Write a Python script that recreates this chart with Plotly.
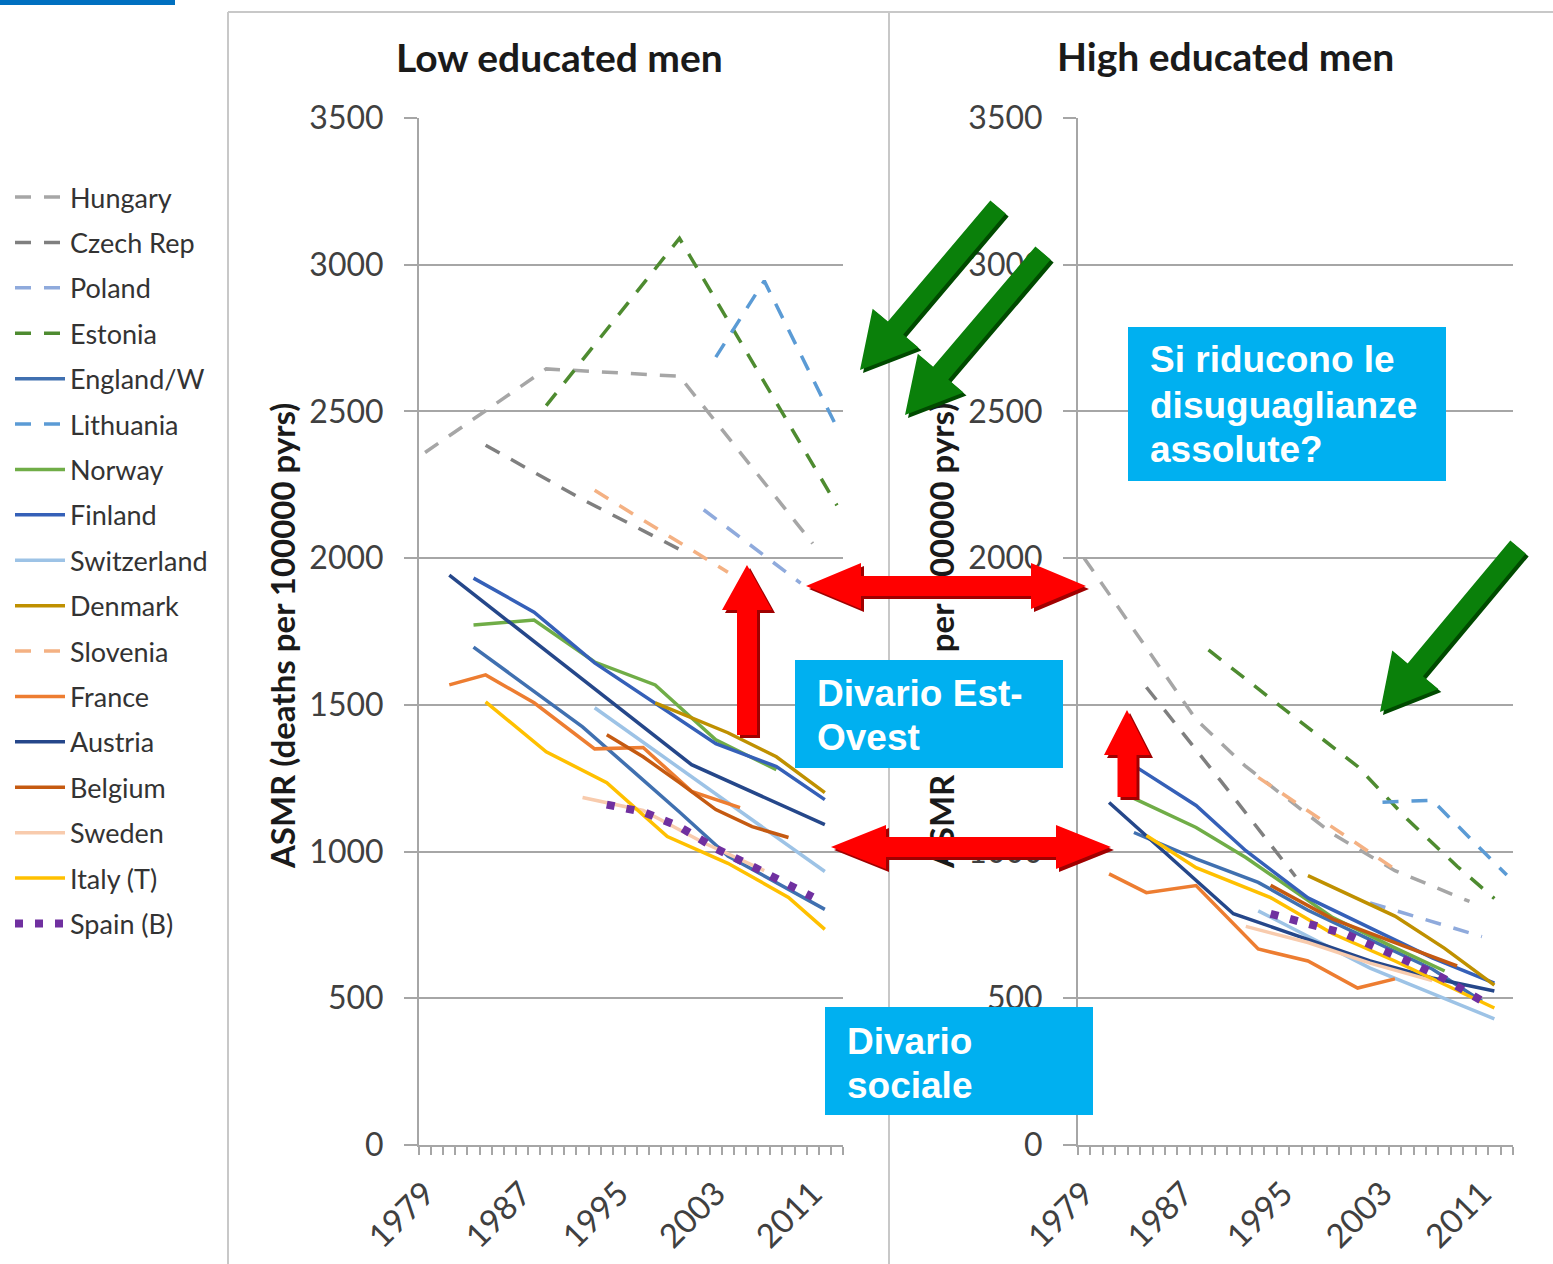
import math
import plotly.graph_objects as go

W, H = 1553, 1264

# ---- data: age-standardised mortality (deaths per 100000 person-years) ----
countries = ["Hungary", "Czech Rep", "Poland", "Estonia", "England/W", "Lithuania",
             "Norway", "Finland", "Switzerland", "Denmark", "Slovenia", "France",
             "Austria", "Belgium", "Sweden", "Italy (T)", "Spain (B)"]

hungary_low_yr = [1979, 1989, 2000, 2011]
hungary_low = [2360, 2645, 2620, 2050]
hungary_high_yr = [1979, 1988, 1992, 1999, 2004, 2010]
hungary_high = [2000, 1450, 1290, 1060, 935, 830]

czech_low_yr = [1984, 1992, 2000]
czech_low = [2385, 2200, 2030]
czech_high_yr = [1984, 1990, 1996]
czech_high = [1560, 1240, 915]

poland_low_yr = [2002, 2006, 2010]
poland_low = [2165, 2040, 1915]
poland_high_yr = [2002, 2006, 2011]
poland_high = [825, 775, 710]

estonia_low_yr = [1989, 2000, 2013]
estonia_low = [2520, 3090, 2180]
estonia_high_yr = [1989, 1997, 2001, 2005, 2009, 2012]
estonia_high = [1687, 1424, 1290, 1110, 950, 840]

england_low_yr = [1983, 1992, 1996, 2000, 2004, 2009, 2012]
england_low = [1697, 1425, 1280, 1135, 985, 870, 803]
england_high_yr = [1983, 1988, 1993, 1997, 2002, 2007, 2011]
england_high = [1065, 975, 895, 800, 700, 600, 490]

lithuania_low_yr = [2003, 2007, 2013]
lithuania_low = [2685, 2945, 2445]
lithuania_high_yr = [2003, 2007, 2013]
lithuania_high = [1168, 1175, 920]

norway_low_yr = [1983, 1988, 1993, 1998, 2003, 2008]
norway_low = [1772, 1789, 1646, 1568, 1381, 1279]
norway_high_yr = [1983, 1988, 1992, 1995, 1999, 2004, 2008]
norway_high = [1181, 1082, 980, 891, 775, 672, 593]

finland_low_yr = [1983, 1988, 1993, 1998, 2003, 2008, 2012]
finland_low = [1932, 1816, 1643, 1507, 1368, 1290, 1177]
finland_high_yr = [1983, 1988, 1992, 1997, 2002, 2007, 2012]
finland_high = [1293, 1157, 1003, 842, 740, 638, 552]

switzerland_low_yr = [1993, 2002, 2012]
switzerland_low = [1490, 1225, 932]
switzerland_high_yr = [1993, 2002, 2012]
switzerland_high = [798, 603, 430]

denmark_low_yr = [1998, 2004, 2008, 2012]
denmark_low = [1507, 1405, 1323, 1201]
denmark_high_yr = [1997, 2004, 2008, 2012]
denmark_high = [918, 780, 670, 545]

slovenia_low_yr = [1993, 2004]
slovenia_low = [2231, 1952]
slovenia_high_yr = [1993, 2004]
slovenia_high = [1253, 940]

france_low_yr = [1981, 1984, 1988, 1993, 1997, 2001, 2005]
france_low = [1568, 1602, 1507, 1350, 1355, 1205, 1150]
france_high_yr = [1981, 1984, 1988, 1993, 1997, 2001, 2004]
france_high = [924, 860, 884, 668, 627, 535, 566]

austria_low_yr = [1981, 1991, 2001, 2012]
austria_low = [1942, 1620, 1296, 1092]
austria_high_yr = [1981, 1991, 1995, 2002, 2007, 2012]
austria_high = [1167, 788, 730, 627, 569, 525]

belgium_low_yr = [1994, 1997, 2000, 2003, 2006, 2009]
belgium_low = [1398, 1323, 1235, 1143, 1085, 1048]
belgium_high_yr = [1994, 1999, 2004, 2009]
belgium_high = [885, 770, 690, 610]

sweden_low_yr = [1992, 1997, 2002, 2007]
sweden_low = [1184, 1140, 1030, 935]
sweden_high_yr = [1992, 1997, 2002, 2007]
sweden_high = [745, 690, 620, 560]

italy_low_yr = [1984, 1989, 1994, 1999, 2004, 2009, 2012]
italy_low = [1510, 1340, 1235, 1051, 960, 844, 735]
italy_high_yr = [1984, 1988, 1994, 1999, 2004, 2012]
italy_high = [1055, 945, 843, 720, 627, 467]

spain_low_yr = [1994, 1997, 2000, 2003, 2006, 2009, 2011]
spain_low = [1160, 1135, 1085, 1010, 950, 885, 845]
spain_high_yr = [1994, 2000, 2005, 2008, 2011]
spain_high = [788, 720, 627, 566, 491]

low_series = [
    (hungary_low_yr, hungary_low), (czech_low_yr, czech_low), (poland_low_yr, poland_low),
    (estonia_low_yr, estonia_low), (england_low_yr, england_low), (lithuania_low_yr, lithuania_low),
    (norway_low_yr, norway_low), (finland_low_yr, finland_low), (switzerland_low_yr, switzerland_low),
    (denmark_low_yr, denmark_low), (slovenia_low_yr, slovenia_low), (france_low_yr, france_low),
    (austria_low_yr, austria_low), (belgium_low_yr, belgium_low), (sweden_low_yr, sweden_low),
    (italy_low_yr, italy_low), (spain_low_yr, spain_low),
]
high_series = [
    (hungary_high_yr, hungary_high), (czech_high_yr, czech_high), (poland_high_yr, poland_high),
    (estonia_high_yr, estonia_high), (england_high_yr, england_high), (lithuania_high_yr, lithuania_high),
    (norway_high_yr, norway_high), (finland_high_yr, finland_high), (switzerland_high_yr, switzerland_high),
    (denmark_high_yr, denmark_high), (slovenia_high_yr, slovenia_high), (france_high_yr, france_high),
    (austria_high_yr, austria_high), (belgium_high_yr, belgium_high), (sweden_high_yr, sweden_high),
    (italy_high_yr, italy_high), (spain_high_yr, spain_high),
]

year_labels = [1979, 1987, 1995, 2003, 2011]
y_ticks = [0, 500, 1000, 1500, 2000, 2500, 3000, 3500]

# ---- styling ----
colors = ["#A6A6A6", "#7F7F7F", "#8FAADC", "#4E8B30", "#4070B0", "#5B9BD5",
          "#70AD47", "#3560B8", "#9DC3E6", "#BF9000", "#F4B183", "#ED7D31",
          "#25478A", "#C55A11", "#F8CBAD", "#FFC000", "#7030A0"]
DASH = "16px,13px"
DOTS = "8px,12px"
dashes = [DASH, DASH, DASH, DASH, "solid", DASH, "solid", "solid", "solid", "solid",
          DASH, "solid", "solid", "solid", "solid", "solid", DOTS]

FONT = "Lato"
GRID = "#A6A6A6"
TICKCOL = "#404040"

fig = go.Figure()

for i, name in enumerate(countries):
    w = 8 if dashes[i] == DOTS else 3.5
    for (yrs, vals), xa, ya, show in ((low_series[i], "x", "y", True),
                                      (high_series[i], "x2", "y2", False)):
        fig.add_trace(go.Scatter(
            x=yrs, y=vals, mode="lines", name=name, legendgroup=name,
            showlegend=show, xaxis=xa, yaxis=ya, hoverinfo="skip",
            line=dict(color=colors[i], width=w, dash=dashes[i]),
        ))

# invisible carriers so the rotated title axes get drawn
for xa, ya in (("x", "y3"), ("x2", "y4")):
    fig.add_trace(go.Scatter(x=[1990], y=[1000], mode="markers", xaxis=xa, yaxis=ya,
                             marker=dict(opacity=0), showlegend=False, hoverinfo="skip"))

x_minor = [1978.5 + k for k in range(36)]


def xaxis_cfg(x0, x1):
    return dict(
        domain=[x0 / W, x1 / W], range=[1978.5, 2013.5], tickmode="array",
        tickvals=year_labels, ticktext=[str(v) for v in year_labels], tickangle=-45,
        ticks="", showgrid=False, zeroline=False, showline=True, linecolor=GRID,
        linewidth=2, ticklabelstandoff=14,
        tickfont=dict(family=FONT, size=33, color=TICKCOL),
        minor=dict(tickmode="array", tickvals=x_minor, ticks="outside", ticklen=8,
                   tickcolor=GRID, tickwidth=2, showgrid=False),
    )


def yaxis_cfg(anchor):
    return dict(
        domain=[1 - 1145 / H, 1 - 118 / H], range=[0, 3500], tickmode="array",
        tickvals=y_ticks, anchor=anchor, showgrid=True, gridcolor=GRID, gridwidth=2,
        zeroline=False, showline=True, linecolor=GRID, linewidth=2, ticks="outside",
        ticklen=13, tickcolor=GRID, tickwidth=2, ticklabelstandoff=14,
        tickfont=dict(family=FONT, size=32, color=TICKCOL),
    )


YTITLE = "<b>ASMR (deaths per 100000 pyrs)</b>"


def ytitle_axis(over, xpix):
    # rotated axis title drawn as a tick label so that it sits below the overlays
    return dict(
        overlaying=over, anchor="free", position=xpix / W, side="left",
        range=[0, 3500], tickmode="array", tickvals=[1720], ticktext=[YTITLE],
        tickangle=-90, ticks="", showline=False, showgrid=False, zeroline=False,
        tickfont=dict(family=FONT, size=33, color="#1A1A1A"),
    )


fig.update_layout(
    width=W, height=H, margin=dict(l=0, r=0, t=0, b=0, autoexpand=False),
    paper_bgcolor="white", plot_bgcolor="rgba(0,0,0,0)",
    xaxis=xaxis_cfg(419, 843), yaxis=yaxis_cfg("x"),
    xaxis2=xaxis_cfg(1078, 1513), yaxis2=yaxis_cfg("x2"),
    yaxis3=ytitle_axis("y", 302), yaxis4=ytitle_axis("y2", 961),
    legend=dict(x=10 / W, y=1 - 173 / H, xanchor="left", yanchor="top",
                traceorder="grouped", tracegroupgap=7.3, itemwidth=50,
                bgcolor="rgba(0,0,0,0)",
                font=dict(family=FONT, size=27, color="#333333")),
)

# ---- panel titles ----
for label, xc, yc in (("Low educated men", 559, 57), ("High educated men", 1225, 56)):
    fig.add_annotation(x=xc / W, y=1 - yc / H, xref="paper", yref="paper",
                       text=f"<b>{label}</b>", showarrow=False,
                       xanchor="center", yanchor="middle",
                       font=dict(family=FONT, size=39, color="#1A1A1A"))

shapes = []

# header strip and chart frame
shapes.append(dict(type="rect", xref="paper", yref="paper", x0=0, x1=175 / W,
                   y0=1 - 5 / H, y1=1, fillcolor="#0070C0", line=dict(width=0)))
for (xa, ya, xb, yb) in ((228, 12, 228, H), (228, 12, W, 12), (889, 12, 889, H)):
    shapes.append(dict(type="line", xref="paper", yref="paper", x0=xa / W, x1=xb / W,
                       y0=1 - ya / H, y1=1 - yb / H, line=dict(color="#C8C8C8", width=2),
                       layer="below"))


def arrow_pts(tail, tip, shaft, head_w, head_len, both=False):
    (x0, y0), (x1, y1) = tail, tip
    L = math.hypot(x1 - x0, y1 - y0)
    ux, uy = (x1 - x0) / L, (y1 - y0) / L
    nx, ny = -uy, ux

    def P(s, t):
        return (x0 + ux * s + nx * t, y0 + uy * s + ny * t)

    if both:
        return [P(0, 0), P(head_len, head_w / 2), P(head_len, shaft / 2),
                P(L - head_len, shaft / 2), P(L - head_len, head_w / 2), P(L, 0),
                P(L - head_len, -head_w / 2), P(L - head_len, -shaft / 2),
                P(head_len, -shaft / 2), P(head_len, -head_w / 2)]
    return [P(0, shaft / 2), P(L - head_len, shaft / 2), P(L - head_len, head_w / 2),
            P(L, 0), P(L - head_len, -head_w / 2), P(L - head_len, -shaft / 2),
            P(0, -shaft / 2)]


def to_path(pts, dx=0, dy=0):
    return "M" + " L".join(f"{(x + dx) / W:.5f},{1 - (y + dy) / H:.5f}" for x, y in pts) + " Z"


def add_arrow(pts, fill, shade):
    shapes.append(dict(type="path", xref="paper", yref="paper", path=to_path(pts, 3, 3),
                       fillcolor=shade, line=dict(width=0), layer="above"))
    shapes.append(dict(type="path", xref="paper", yref="paper", path=to_path(pts),
                       fillcolor=fill, line=dict(width=0), layer="above"))


RED, RED_D = "#FF0000", "#A00000"
GREEN, GREEN_D = "#0A800A", "#004A00"

add_arrow(arrow_pts((747, 735), (747, 565), 20, 50, 45), RED, RED_D)
add_arrow(arrow_pts((806, 586), (1086, 586), 20, 46, 55, both=True), RED, RED_D)
add_arrow(arrow_pts((831, 847), (1111, 847), 20, 44, 55, both=True), RED, RED_D)
add_arrow(arrow_pts((1127, 797), (1127, 710), 19, 46, 45), RED, RED_D)

add_arrow(arrow_pts((998, 207), (860, 370), 20, 60, 55), GREEN, GREEN_D)
add_arrow(arrow_pts((1043, 253), (905, 415), 20, 60, 55), GREEN, GREEN_D)
add_arrow(arrow_pts((1518, 547), (1380, 712), 20, 60, 55), GREEN, GREEN_D)

# ---- callout boxes ----
BOX = "#00B0F0"
boxes = [
    ((1128, 327, 1446, 481), 1148, [("Si riducono le", 360), ("disuguaglianze", 405), ("assolute?", 449)]),
    ((795, 660, 1063, 768), 815, [("Divario Est-", 693), ("Ovest", 737)]),
    ((825, 1007, 1093, 1115), 845, [("Divario", 1041), ("sociale", 1085)]),
]
for (bx0, by0, bx1, by1), tx, lines in boxes:
    shapes.append(dict(type="rect", xref="paper", yref="paper", x0=bx0 / W, x1=bx1 / W,
                       y0=1 - by1 / H, y1=1 - by0 / H, fillcolor=BOX, line=dict(width=0),
                       layer="above"))
    for txt, ty in lines:
        fig.add_annotation(x=tx / W, y=1 - ty / H, xref="paper", yref="paper",
                           text=f"<b>{txt}</b>", showarrow=False, xanchor="left",
                           yanchor="middle",
                           font=dict(family="Liberation Sans", size=37, color="white"))

fig.update_layout(shapes=shapes)

fig.write_html("out.html")
